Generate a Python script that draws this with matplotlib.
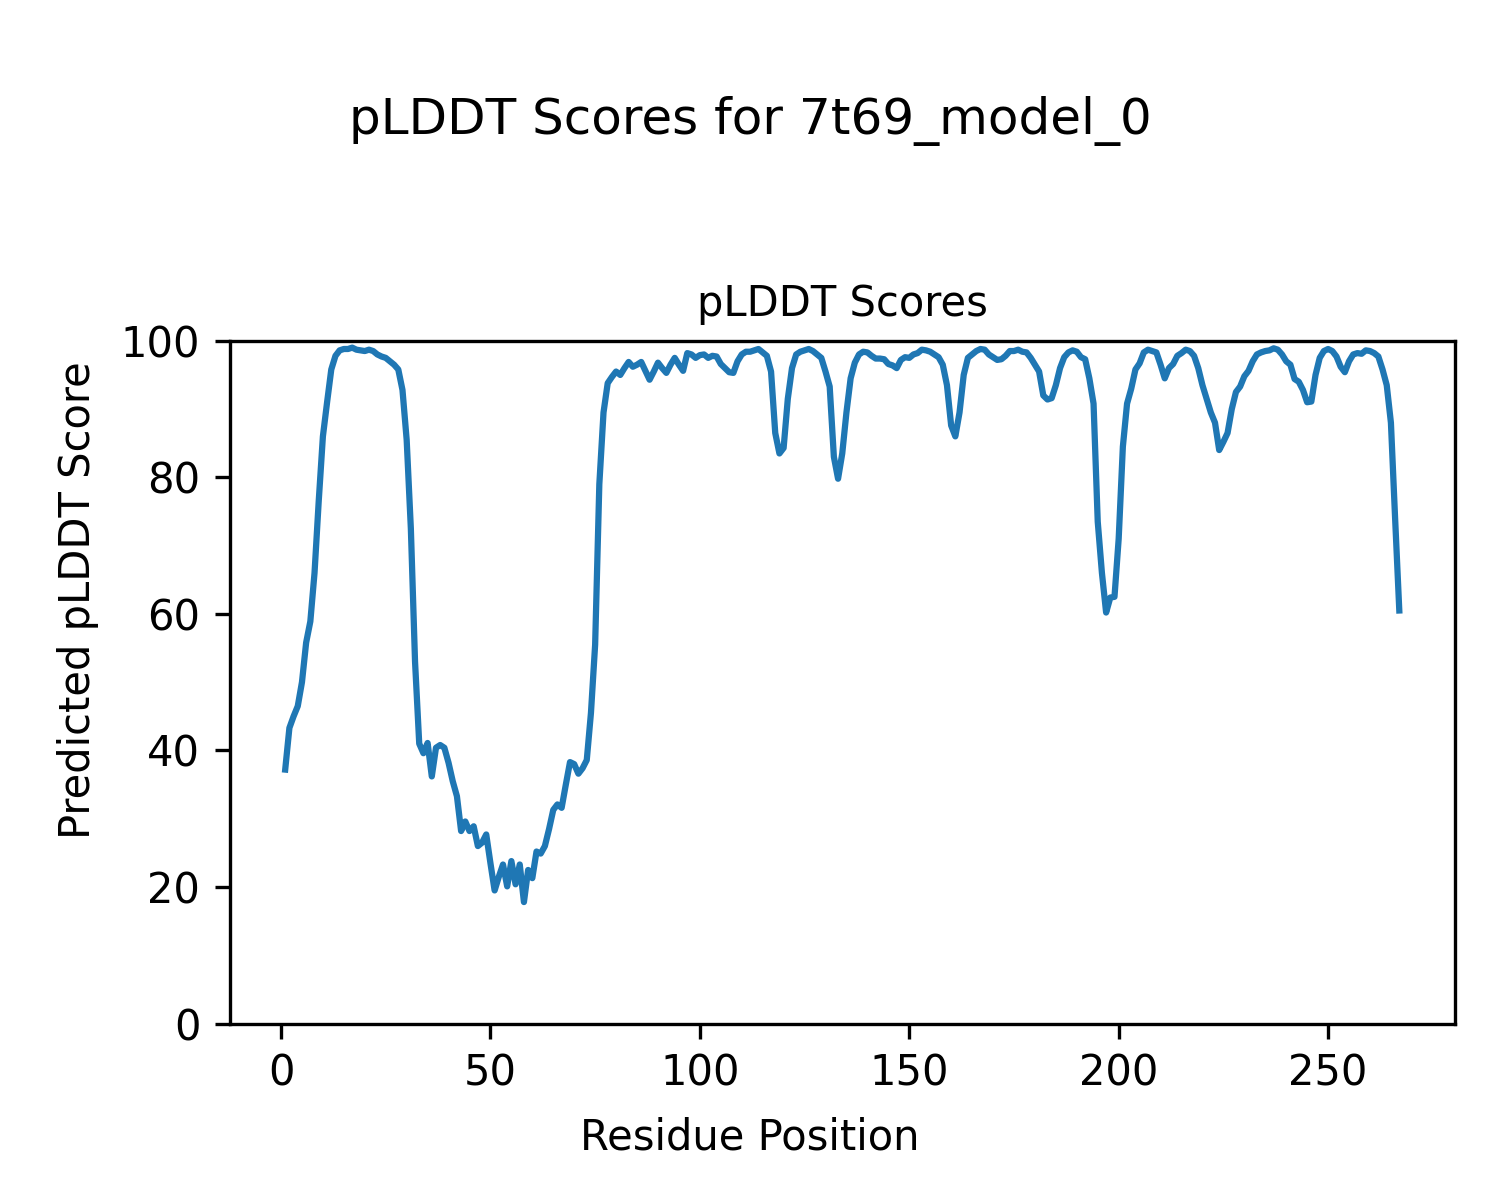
import matplotlib
matplotlib.use("Agg")
import matplotlib.pyplot as plt

# residue numbers and pLDDT values
model_name = "7t69_model_0"
residues = list(range(1, 268))
plddt = [
    37.2, 43.3, 45.0, 46.5, 50.0, 55.8, 58.9, 66.0, 76.5, 86.0,   # 1-10
    91.0, 95.8, 97.8, 98.6, 98.8, 98.8, 99.0, 98.7, 98.6, 98.5,   # 11-20
    98.7, 98.5, 98.0, 97.7, 97.5, 97.0, 96.5, 95.8, 92.8, 85.5,   # 21-30
    72.5, 53.0, 41.0, 39.6, 41.1, 36.2, 40.4, 40.8, 40.4, 38.2,   # 31-40
    35.5, 33.3, 28.2, 29.6, 28.2, 28.9, 26.0, 26.5, 27.7, 23.5,   # 41-50
    19.5, 21.5, 23.3, 20.1, 23.8, 20.4, 23.3, 17.8, 22.5, 21.3,   # 51-60
    25.2, 24.9, 26.0, 28.5, 31.3, 32.1, 31.6, 35.0, 38.3, 38.0,   # 61-70
    36.6, 37.4, 38.6, 45.5, 55.5, 79.0, 89.5, 93.8, 94.7, 95.5,   # 71-80
    95.0, 96.0, 96.9, 96.2, 96.5, 96.9, 95.6, 94.3, 95.5, 96.8,   # 81-90
    96.0, 95.3, 96.5, 97.5, 96.5, 95.6, 98.2, 98.0, 97.5, 97.9,   # 91-100
    98.0, 97.5, 97.8, 97.7, 96.6, 96.0, 95.4, 95.3, 97.0, 98.0,   # 101-110
    98.4, 98.4, 98.6, 98.8, 98.3, 97.8, 95.5, 86.5, 83.5, 84.3,   # 111-120
    91.5, 96.0, 98.0, 98.4, 98.6, 98.8, 98.5, 98.0, 97.5, 95.5,   # 121-130
    93.3, 83.0, 79.8, 83.5, 89.5, 94.5, 96.8, 98.0, 98.4, 98.3,   # 131-140
    97.8, 97.4, 97.4, 97.3, 96.6, 96.4, 96.0, 97.2, 97.6, 97.5,   # 141-150
    98.0, 98.2, 98.7, 98.6, 98.4, 98.0, 97.6, 96.5, 93.5, 87.6,   # 151-160
    86.0, 89.5, 95.0, 97.5, 98.0, 98.5, 98.8, 98.7, 98.0, 97.6,   # 161-170
    97.2, 97.3, 97.8, 98.5, 98.5, 98.7, 98.4, 98.3, 97.5, 96.5,   # 171-180
    95.5, 92.0, 91.4, 91.6, 93.5, 96.0, 97.6, 98.3, 98.6, 98.4,   # 181-190
    97.6, 97.3, 94.5, 90.8, 73.5, 66.0, 60.2, 62.4, 62.5, 71.0,   # 191-200
    84.5, 90.8, 93.0, 95.8, 96.7, 98.3, 98.7, 98.5, 98.3, 96.5,   # 201-210
    94.5, 96.0, 96.6, 97.8, 98.2, 98.7, 98.5, 97.8, 96.0, 93.5,   # 211-220
    91.5, 89.5, 88.0, 84.0, 85.2, 86.5, 90.0, 92.5, 93.3, 94.8,   # 221-230
    95.6, 97.0, 98.0, 98.3, 98.5, 98.6, 98.9, 98.7, 98.0, 97.0,   # 231-240
    96.5, 94.4, 94.0, 92.8, 91.0, 91.1, 95.0, 97.5, 98.5, 98.8,   # 241-250
    98.5, 97.7, 96.2, 95.4, 97.0, 98.0, 98.2, 98.1, 98.6, 98.5,   # 251-260
    98.2, 97.7, 95.8, 93.5, 88.0, 74.0, 60.5,                     # 261-267
]

fig = plt.figure(figsize=(5, 4), dpi=300)
ax = fig.add_axes([0.153, 0.147, 0.817, 0.569])

ax.plot(residues, plddt, color="#1f77b4", linewidth=1.5)
ax.set_ylim(0, 100)
ax.set_title("pLDDT Scores", fontsize=10)

# axis labels are figure-level in the original, centred on the figure
fig.supxlabel("Residue Position", fontsize=10, y=0.052, va="center")
fig.supylabel("Predicted pLDDT Score", fontsize=10, x=0.052, ha="center")
fig.suptitle(f"pLDDT Scores for {model_name}", fontsize=12, y=0.92, va="top")

fig.savefig("out.png", dpi=300)
